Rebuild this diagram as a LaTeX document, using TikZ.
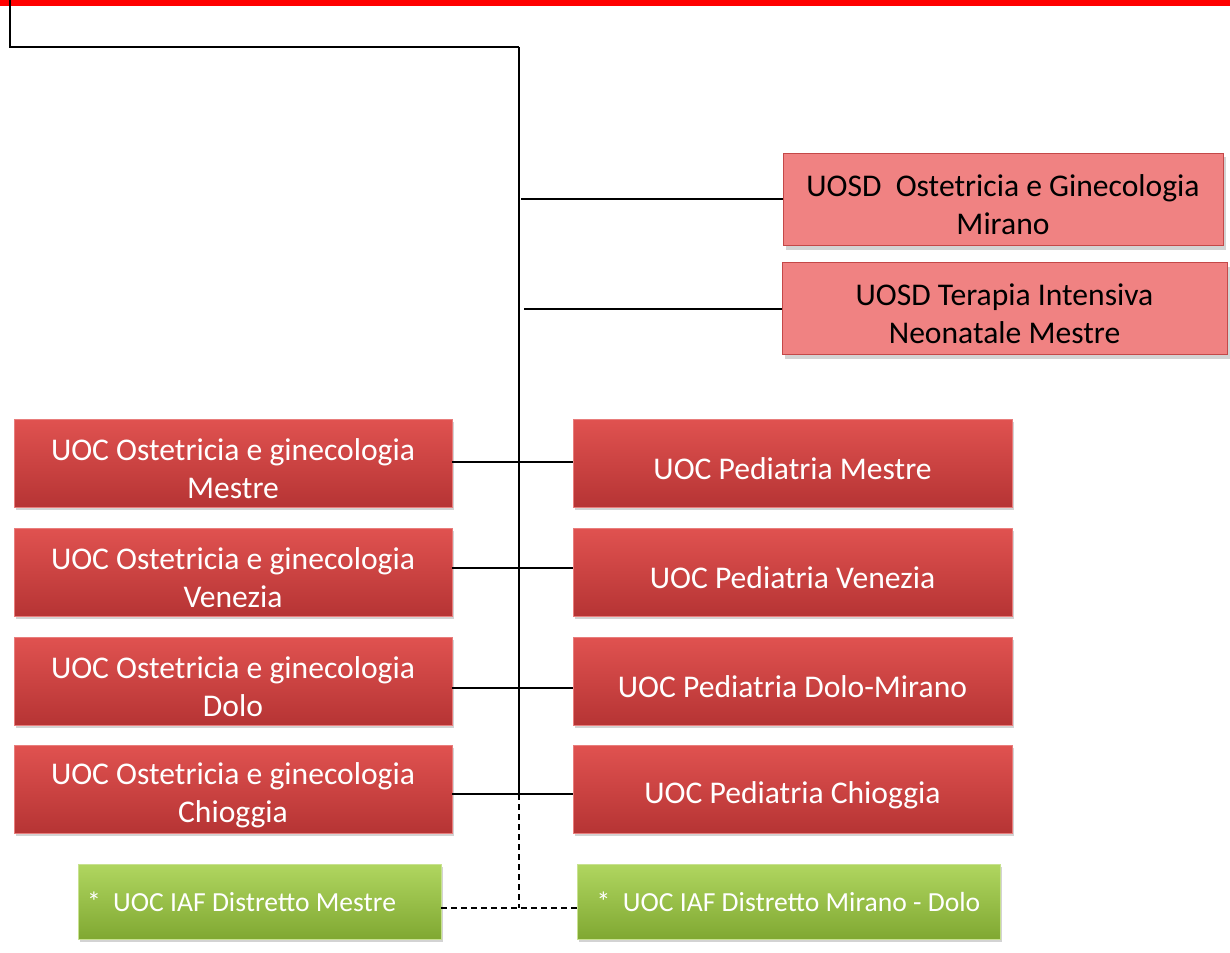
\documentclass[tikz,border=0pt]{standalone}
\usepackage{fontspec}
\setmainfont{Carlito}
\usetikzlibrary{shadows}
\definecolor{uocTop}{RGB}{224,82,80}
\definecolor{uocBot}{RGB}{182,52,52}
\definecolor{uosdFill}{RGB}{240,130,130}
\definecolor{uosdLine}{RGB}{196,72,72}
\definecolor{iafTop}{RGB}{176,214,96}
\definecolor{iafBot}{RGB}{128,168,50}
\tikzset{
uoc/.style={rectangle,top color=uocTop,bottom color=uocBot,draw=uocTop!75!white,thin,minimum width=219pt,minimum height=44pt,inner ysep=1pt,text height=17pt,text=white,align=center,font=\fontsize{15.8}{19}\selectfont,drop shadow={shadow xshift=1pt,shadow yshift=-1.5pt,opacity=0.35}},
uosd/.style={rectangle,fill=uosdFill,draw=uosdLine,thin,minimum height=46pt,inner ysep=1pt,text height=35pt,align=center,font=\fontsize{15.8}{19}\selectfont,drop shadow={shadow xshift=1.5pt,shadow yshift=-2pt,opacity=0.35}},
iaf/.style={rectangle,top color=iafTop,bottom color=iafBot,draw=iafTop!70!white,thin,minimum height=37.5pt,text=white,align=center,font=\fontsize{13.8}{17}\selectfont,drop shadow={shadow xshift=1pt,shadow yshift=-1.5pt,opacity=0.35}},
link/.style={line width=1pt},
dlink/.style={link,dash pattern=on 3pt off 2pt}
}

\begin{document}
\begin{tikzpicture}[x=0.5pt,y=-0.5pt]
	\useasboundingbox (0,0) rectangle (1230,952);
	% header rule
	\draw[red,line width=3pt] (0,3) -- (1230,3);

	% trunk
	\coordinate (root) at (10,0);
	\coordinate (elbow) at (10,47);
	\coordinate (top) at (519,47);
	\draw[link] (root) -- (elbow) -- (top);

	% uosd units
	\node[uosd,minimum width=220pt] (uosd1) at (1003,199.5) {UOSD~~Ostetricia e Ginecologia\\Mirano};
	\node[uosd,minimum width=222.5pt] (uosd2) at (1004.5,308.5) {UOSD Terapia Intensiva\\Neonatale Mestre};
	\draw[link] (uosd1.west) -- ++(-262,0);
	\draw[link] (uosd2.west) -- ++(-258,0);

	% uoc units
	\foreach \i/\y/\ly/\osp/\ped in {1/463/462/Mestre/Mestre,2/572/568/Venezia/Venezia,3/681/688/Dolo/Dolo-Mirano,4/789/794/Chioggia/Chioggia}{
		\node[uoc,text height=36pt] (ost\i) at (233,\y) {UOC Ostetricia e ginecologia\\\osp};
		\node[uoc,minimum width=219.5pt] (ped\i) at (792.5,\y) {UOC Pediatria \ped};
		\coordinate (j\i) at (519,\ly);
		\draw[link] (ost\i.east |- j\i) -- (ped\i.west |- j\i);
	}
	\draw[link] (top) -- (j4);

	% iaf units
	\node[iaf,minimum width=181.5pt,text width=172.5pt,inner xsep=4.5pt,align=flush left] (iaf1) at (259.5,901.5) {*~~UOC IAF Distretto Mestre};
	\node[iaf,minimum width=211.5pt] (iaf2) at (788.5,901.5) {*~~UOC IAF Distretto Mirano - Dolo};
	\coordinate (jd) at (519,908);
	\draw[dlink] (j4) -- (jd);
	\draw[dlink] (iaf1.east |- jd) -- (iaf2.west |- jd);
\end{tikzpicture}
\end{document}
